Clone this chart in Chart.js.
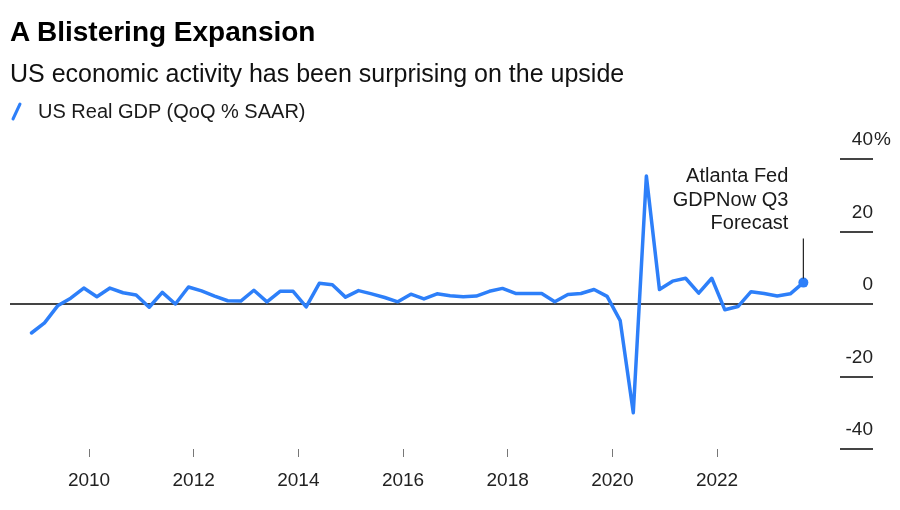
<!DOCTYPE html>
<html>
<head>
<meta charset="utf-8">
<script src="https://cdn.jsdelivr.net/npm/chart.js@4.4.0/dist/chart.umd.min.js"></script>
<style>
  html, body { margin: 0; padding: 0; background: #fff; }
  #wrap { position: relative; width: 900px; height: 510px; overflow: hidden; font-family: "Liberation Sans", Arial, sans-serif; }
  #chart { position: absolute; left: 0; top: 0; }
  .title { position: absolute; left: 10px; top: 18px; font-size: 28px; line-height: 28px; font-weight: 700; color: #000; white-space: nowrap; }
  .subtitle { position: absolute; left: 10px; top: 61px; font-size: 25px; line-height: 25px; color: #111; white-space: nowrap; }
  .legend { position: absolute; left: 10px; top: 101px; font-size: 20px; line-height: 20px; color: #1a1a1a; white-space: nowrap; }
  .legend svg { position: absolute; left: 0; top: 0; }
  .legend span { position: absolute; left: 28px; top: 0; }
</style>
</head>
<body>
<div id="wrap">
  <canvas id="chart" width="900" height="510"></canvas>
  <div class="title">A Blistering Expansion</div>
  <div class="subtitle">US economic activity has been surprising on the upside</div>
  <div class="legend">
    <svg width="20" height="22"><line x1="3" y1="18" x2="10" y2="3" stroke="#2d7ff9" stroke-width="3" stroke-linecap="round"/></svg>
    <span>US Real GDP (QoQ % SAAR)</span>
  </div>
</div>
<script>
// quarterly real GDP growth, QoQ % SAAR (last point = GDPNow forecast)
const quarters = [
  '2008Q4',
  '2009Q1', '2009Q2', '2009Q3', '2009Q4',
  '2010Q1', '2010Q2', '2010Q3', '2010Q4',
  '2011Q1', '2011Q2', '2011Q3', '2011Q4',
  '2012Q1', '2012Q2', '2012Q3', '2012Q4',
  '2013Q1', '2013Q2', '2013Q3', '2013Q4',
  '2014Q1', '2014Q2', '2014Q3', '2014Q4',
  '2015Q1', '2015Q2', '2015Q3', '2015Q4',
  '2016Q1', '2016Q2', '2016Q3', '2016Q4',
  '2017Q1', '2017Q2', '2017Q3', '2017Q4',
  '2018Q1', '2018Q2', '2018Q3', '2018Q4',
  '2019Q1', '2019Q2', '2019Q3', '2019Q4',
  '2020Q1', '2020Q2', '2020Q3', '2020Q4',
  '2021Q1', '2021Q2', '2021Q3', '2021Q4',
  '2022Q1', '2022Q2', '2022Q3', '2022Q4',
  '2023Q1', '2023Q2', '2023Q3'
];
const gdpGrowth = [
  -8.0,
  -5.2, -0.5, 1.6, 4.4,
  2.0, 4.4, 3.1, 2.5,
  -0.9, 3.2, 0.0, 4.7,
  3.6, 2.2, 0.9, 0.8,
  3.8, 0.6, 3.5, 3.5,
  -0.8, 5.7, 5.3, 1.9,
  3.7, 2.8, 1.8, 0.6,
  2.7, 1.4, 2.8, 2.3,
  2.0, 2.2, 3.5, 4.3,
  2.9, 2.9, 2.9, 0.6,
  2.6, 2.9, 4.0, 2.1,
  -4.6, -30.0, 35.3, 4.0,
  6.3, 7.1, 3.0, 7.1,
  -1.6, -0.7, 3.4, 2.9,
  2.2, 2.8, 5.9
];
const yearTicks = [2010, 2012, 2014, 2016, 2018, 2020, 2022];
const valueTicks = [-40, -20, 0, 20, 40];
const noteLines = ['Atlanta Fed', 'GDPNow Q3', 'Forecast'];

const BLUE = '#2d7ff9';
const FONT = '"Liberation Sans", Arial, sans-serif';

// quarter label -> decimal year, a bit past mid-quarter
function quarterToYear(q) {
  const year = parseInt(q.slice(0, 4), 10);
  const n = parseInt(q.slice(5), 10);
  return year + (n - 0.4) / 4;
}

const points = quarters.map((q, i) => ({ x: quarterToYear(q), y: gdpGrowth[i] }));
const lastIdx = points.length - 1;

const forecastNote = {
  id: 'forecastNote',
  afterDatasetsDraw(chart) {
    const { ctx, scales } = chart;
    const xs = scales.x;
    const ys = scales.y;
    const px = xs.getPixelForValue(points[lastIdx].x);
    const py = ys.getPixelForValue(points[lastIdx].y);
    ctx.save();
    // leader line
    ctx.strokeStyle = '#222';
    ctx.lineWidth = 1.2;
    ctx.beginPath();
    ctx.moveTo(px, py - 4);
    ctx.lineTo(px, py - 44);
    ctx.stroke();
    // note text
    ctx.fillStyle = '#1a1a1a';
    ctx.font = '20px ' + FONT;
    ctx.textAlign = 'right';
    ctx.textBaseline = 'middle';
    noteLines.forEach((t, i) => ctx.fillText(t, px - 15, py - 106 + i * 23.5));
    // percent sign on top tick
    ctx.font = '19px ' + FONT;
    ctx.fillStyle = '#222';
    ctx.textAlign = 'left';
    ctx.fillText('%', ys.left + 34, ys.getPixelForValue(valueTicks[valueTicks.length - 1]) - 19);
    ctx.restore();
  }
};

new Chart(document.getElementById('chart'), {
  type: 'line',
  data: {
    datasets: [{
      label: 'US Real GDP (QoQ % SAAR)',
      data: points,
      borderColor: BLUE,
      backgroundColor: BLUE,
      borderWidth: 3.5,
      borderJoinStyle: 'round',
      borderCapStyle: 'round',
      tension: 0,
      fill: false,
      pointRadius: (ctx) => (ctx.dataIndex === lastIdx ? 5 : 0),
      pointHoverRadius: 0,
      pointBorderWidth: 0
    }]
  },
  options: {
    responsive: false,
    animation: false,
    events: [],
    layout: { padding: { left: 10, right: 10, top: 159, bottom: 18 } },
    plugins: { legend: { display: false }, tooltip: { enabled: false } },
    scales: {
      x: {
        type: 'linear',
        min: 2008.49,
        max: 2024.35,
        afterBuildTicks: (s) => { s.ticks = yearTicks.map((v) => ({ value: v })); },
        afterFit: (s) => { s.height = 43; },
        border: { display: false },
        grid: { drawOnChartArea: false, drawTicks: true, tickLength: 8, tickColor: '#777', tickWidth: 1 },
        ticks: {
          padding: 12,
          color: '#222',
          font: { family: FONT, size: 19 },
          maxRotation: 0,
          callback: (v) => String(v)
        }
      },
      y: {
        position: 'right',
        min: -40,
        max: 40,
        afterBuildTicks: (s) => { s.ticks = valueTicks.map((v) => ({ value: v })); },
        afterFit: (s) => { s.width = 50; },
        border: { display: false },
        grid: {
          drawOnChartArea: true,
          drawTicks: true,
          tickLength: 33,
          color: (c) => (c.tick && c.tick.value === 0 ? '#444' : 'rgba(0,0,0,0)'),
          lineWidth: 2,
          tickColor: '#444',
          tickWidth: 2
        },
        ticks: {
          mirror: true,
          crossAlign: 'near',
          padding: 33,
          labelOffset: -19,
          color: '#222',
          font: { family: FONT, size: 19 },
          callback: (v) => String(v)
        }
      }
    }
  },
  plugins: [forecastNote]
});
</script>
</body>
</html>
